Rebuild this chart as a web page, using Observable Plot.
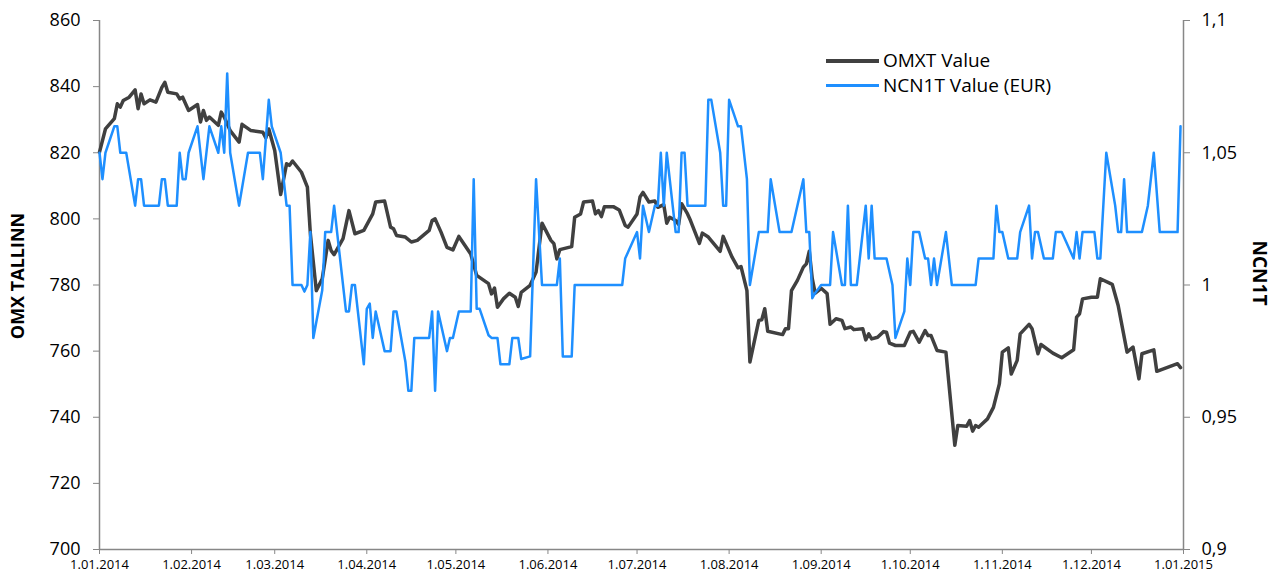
<!DOCTYPE html>
<html>
<head>
<meta charset="utf-8">
<script src="https://cdn.jsdelivr.net/npm/d3@7"></script>
<script src="https://cdn.jsdelivr.net/npm/@observablehq/plot@0.6"></script>
<style>
  html, body { margin: 0; padding: 0; background: #ffffff; }
  #wrap { position: relative; width: 1271px; height: 574px; font-family: "Open Sans", sans-serif; color: #000; }
  #wrap svg { position: absolute; left: 0; top: 0; }
  .ytitle { position: absolute; font-weight: bold; white-space: nowrap; transform-origin: center center; }
  .legend { position: absolute; left: 826px; top: 48px; font-size: 19px; line-height: 25px; }
  .legend .row { display: flex; align-items: center; height: 25px; }
  .legend .swatch { width: 53px; margin-right: 4px; }
</style>
</head>
<body>
<div id="wrap"></div>
<script>
// ---- data ----
const omxtDates = [
  "2014-01-01","2014-01-03","2014-01-06","2014-01-07","2014-01-08","2014-01-09","2014-01-11","2014-01-13","2014-01-14","2014-01-15",
  "2014-01-16","2014-01-18","2014-01-20","2014-01-22","2014-01-23","2014-01-24","2014-01-27","2014-01-28","2014-01-29","2014-01-31",
  "2014-02-03","2014-02-04","2014-02-05","2014-02-06","2014-02-07","2014-02-10","2014-02-11","2014-02-12","2014-02-14","2014-02-17",
  "2014-02-18","2014-02-21","2014-02-25","2014-02-26","2014-02-27",
  "2014-03-01","2014-03-03","2014-03-05","2014-03-06","2014-03-07","2014-03-10","2014-03-12","2014-03-13","2014-03-15","2014-03-17",
  "2014-03-19","2014-03-20","2014-03-21","2014-03-24","2014-03-26","2014-03-28","2014-03-31",
  "2014-04-03","2014-04-04","2014-04-07","2014-04-09","2014-04-10","2014-04-11","2014-04-14","2014-04-16","2014-04-18","2014-04-22",
  "2014-04-23","2014-04-24","2014-04-26","2014-04-28","2014-04-30",
  "2014-05-02","2014-05-06","2014-05-08","2014-05-12","2014-05-13","2014-05-14","2014-05-15","2014-05-17","2014-05-19","2014-05-21",
  "2014-05-22","2014-05-23","2014-05-26","2014-05-28","2014-05-30",
  "2014-06-02","2014-06-03","2014-06-04","2014-06-05","2014-06-09","2014-06-10","2014-06-12","2014-06-13","2014-06-16","2014-06-17",
  "2014-06-18","2014-06-19","2014-06-20","2014-06-23","2014-06-25","2014-06-27","2014-06-28",
  "2014-07-01","2014-07-02","2014-07-03","2014-07-05","2014-07-07","2014-07-08","2014-07-10","2014-07-11","2014-07-12","2014-07-14",
  "2014-07-15","2014-07-16","2014-07-18","2014-07-19","2014-07-22","2014-07-23","2014-07-25","2014-07-29","2014-07-30",
  "2014-08-02","2014-08-04","2014-08-05","2014-08-07","2014-08-08","2014-08-11","2014-08-12","2014-08-13","2014-08-14","2014-08-19",
  "2014-08-20","2014-08-21","2014-08-22","2014-08-24","2014-08-26","2014-08-27","2014-08-28","2014-08-29","2014-08-30",
  "2014-09-01","2014-09-03","2014-09-04","2014-09-06","2014-09-08","2014-09-09","2014-09-11","2014-09-12","2014-09-15","2014-09-16",
  "2014-09-17","2014-09-18","2014-09-20","2014-09-22","2014-09-23","2014-09-24","2014-09-26","2014-09-29",
  "2014-10-01","2014-10-02","2014-10-04","2014-10-06","2014-10-07","2014-10-08","2014-10-10","2014-10-13","2014-10-16","2014-10-17",
  "2014-10-20","2014-10-21","2014-10-22","2014-10-23","2014-10-24","2014-10-27","2014-10-29","2014-10-31",
  "2014-11-01","2014-11-03","2014-11-04","2014-11-06","2014-11-07","2014-11-10","2014-11-11","2014-11-13","2014-11-14","2014-11-18",
  "2014-11-21","2014-11-25","2014-11-26","2014-11-27","2014-11-28",
  "2014-12-01","2014-12-03","2014-12-04","2014-12-08","2014-12-10","2014-12-13","2014-12-15","2014-12-17","2014-12-18","2014-12-22",
  "2014-12-23","2014-12-30","2014-12-31"
];
const omxtValues = [
  820.2,827.2,830.3,834.8,833.8,835.8,836.8,839.0,833.3,837.8,
  834.8,836.0,835.3,839.8,841.3,838.3,837.8,836.3,836.8,832.8,
  834.6,829.3,832.8,829.8,830.8,828.3,832.3,830.8,826.7,823.2,
  828.6,826.7,826.2,824.5,827.2,
  820.7,807.4,816.7,816.2,817.5,814.1,809.6,795.5,778.3,781.9,
  793.5,790.4,789.2,794.0,802.5,795.5,796.5,
  801.5,805.1,805.4,797.5,797.0,795.0,794.5,793.0,793.5,796.5,
  799.5,800.0,796.0,791.4,790.6,
  794.7,789.4,782.9,780.4,777.3,779.1,773.3,775.8,777.5,776.3,
  773.5,777.8,779.9,783.9,798.7,
  793.5,792.5,787.9,790.7,791.6,800.5,801.5,805.1,805.4,801.5,
  802.5,800.7,803.7,803.7,802.7,798.0,797.5,
  801.5,806.6,808.0,805.1,805.4,803.5,804.3,798.7,800.5,799.5,
  798.3,804.6,801.5,799.5,792.6,795.7,794.5,790.2,794.7,
  788.4,785.2,785.6,778.3,756.7,769.3,769.5,772.8,766.0,765.0,
  766.8,766.8,778.3,781.4,785.4,786.4,790.2,781.9,777.5,
  779.0,777.4,768.1,769.8,769.3,766.8,767.3,766.5,766.8,763.4,
  765.2,763.7,764.2,765.9,765.7,762.4,761.7,761.7,
  765.7,766.0,762.7,766.2,764.7,764.7,760.2,759.7,731.5,737.5,
  737.3,739.0,735.8,737.5,737.0,739.5,743.0,750.1,
  759.7,761.0,753.1,757.2,765.2,768.1,766.8,759.2,762.0,759.4,
  758.0,760.4,770.3,771.3,775.8,
  776.3,776.3,781.9,780.2,773.8,759.7,761.2,751.6,759.2,760.4,
  753.9,756.2,755.0
];
const ncnDates = [
  "2014-01-01","2014-01-02","2014-01-03","2014-01-06","2014-01-07","2014-01-08","2014-01-10","2014-01-13","2014-01-14","2014-01-15",
  "2014-01-16","2014-01-21","2014-01-22","2014-01-23","2014-01-24","2014-01-27","2014-01-28","2014-01-29","2014-01-30","2014-01-31",
  "2014-02-03","2014-02-05","2014-02-07","2014-02-10","2014-02-11","2014-02-12","2014-02-13","2014-02-14","2014-02-17","2014-02-20",
  "2014-02-24","2014-02-25","2014-02-27","2014-02-28",
  "2014-03-03","2014-03-05","2014-03-06","2014-03-07","2014-03-10","2014-03-11","2014-03-12","2014-03-13","2014-03-14","2014-03-17",
  "2014-03-18","2014-03-20","2014-03-21","2014-03-25","2014-03-26","2014-03-27","2014-03-28","2014-03-31",
  "2014-04-01","2014-04-02","2014-04-03","2014-04-04","2014-04-07","2014-04-09","2014-04-10","2014-04-11","2014-04-14","2014-04-15",
  "2014-04-16","2014-04-17","2014-04-22","2014-04-23","2014-04-24","2014-04-25","2014-04-28","2014-04-29","2014-04-30",
  "2014-05-02","2014-05-06","2014-05-07","2014-05-08","2014-05-09","2014-05-12","2014-05-13","2014-05-15","2014-05-16","2014-05-19",
  "2014-05-20","2014-05-22","2014-05-23","2014-05-26","2014-05-28","2014-05-30",
  "2014-06-04","2014-06-05","2014-06-06","2014-06-09","2014-06-10","2014-06-26","2014-06-27",
  "2014-07-01","2014-07-02","2014-07-03","2014-07-05","2014-07-07","2014-07-08","2014-07-09","2014-07-10","2014-07-11","2014-07-14",
  "2014-07-15","2014-07-16","2014-07-17","2014-07-18","2014-07-24","2014-07-25","2014-07-26","2014-07-29","2014-07-30","2014-07-31",
  "2014-08-01","2014-08-04","2014-08-05","2014-08-07","2014-08-08","2014-08-11","2014-08-14","2014-08-15","2014-08-18","2014-08-22",
  "2014-08-26","2014-08-27","2014-08-28","2014-08-29","2014-08-30",
  "2014-09-01","2014-09-04","2014-09-05","2014-09-08","2014-09-09","2014-09-10","2014-09-11","2014-09-13","2014-09-16","2014-09-17",
  "2014-09-18","2014-09-19","2014-09-23","2014-09-25","2014-09-26","2014-09-29","2014-09-30",
  "2014-10-01","2014-10-02","2014-10-04","2014-10-06","2014-10-07","2014-10-08","2014-10-09","2014-10-10","2014-10-13","2014-10-15",
  "2014-10-23","2014-10-24","2014-10-29","2014-10-30","2014-10-31",
  "2014-11-01","2014-11-03","2014-11-06","2014-11-07","2014-11-10","2014-11-11","2014-11-12","2014-11-13","2014-11-15","2014-11-18",
  "2014-11-19","2014-11-21","2014-11-25","2014-11-26","2014-11-27","2014-11-28",
  "2014-12-02","2014-12-03","2014-12-04","2014-12-06","2014-12-09","2014-12-10","2014-12-11","2014-12-12","2014-12-13","2014-12-18",
  "2014-12-20","2014-12-22","2014-12-24","2014-12-30","2014-12-31"
];
const ncnValues = [
  1.05,1.04,1.05,1.06,1.06,1.05,1.05,1.03,1.04,1.04,
  1.03,1.03,1.04,1.04,1.03,1.03,1.05,1.04,1.04,1.05,
  1.06,1.04,1.06,1.05,1.06,1.05,1.08,1.05,1.03,1.05,
  1.05,1.04,1.07,1.06,
  1.05,1.03,1.03,1.00,1.00,0.9975,1.00,1.02,0.98,0.998,
  1.02,1.02,1.03,0.99,0.99,1.00,1.00,0.97,
  0.991,0.993,0.98,0.99,0.975,0.975,0.99,0.99,0.971,0.96,
  0.96,0.98,0.98,0.99,0.96,0.99,0.975,0.98,0.98,
  0.99,0.99,1.04,0.991,0.991,0.981,0.98,0.98,0.97,0.97,
  0.98,0.98,0.972,0.973,1.04,1.00,
  1.00,1.01,0.973,0.973,1.00,1.00,1.01,
  1.02,1.01,1.03,1.02,1.03,1.03,1.05,1.03,1.05,1.02,
  1.02,1.05,1.05,1.03,1.03,1.07,1.07,1.05,1.03,1.03,
  1.07,1.06,1.06,1.04,1.00,1.02,1.02,1.04,1.02,1.02,
  1.04,1.02,1.02,0.995,0.997,
  1.00,1.00,1.02,1.00,1.00,1.03,1.00,1.00,1.03,1.01,
  1.03,1.01,1.01,1.00,0.98,0.99,1.01,
  1.00,1.02,1.02,1.01,1.01,1.00,1.01,1.00,1.02,1.00,
  1.00,1.01,1.01,1.03,1.02,
  1.02,1.01,1.01,1.02,1.03,1.01,1.02,1.02,1.01,1.01,
  1.02,1.02,1.01,1.02,1.01,1.02,
  1.02,1.01,1.01,1.05,1.03,1.02,1.02,1.04,1.02,1.02,
  1.03,1.05,1.02,1.02,1.06
];
const monthTicks = ["2014-01-01","2014-02-01","2014-03-01","2014-04-01","2014-05-01","2014-06-01","2014-07-01",
  "2014-08-01","2014-09-01","2014-10-01","2014-11-01","2014-12-01","2015-01-01"];
const leftTicks = [700, 720, 740, 760, 780, 800, 820, 840, 860];
const rightTicks = [0.9, 0.95, 1, 1.05, 1.1];
const rightTickLabels = ["0,9", "0,95", "1", "1,05", "1,1"];
const seriesNames = ["OMXT Value", "NCN1T Value (EUR)"];
const axisTitles = ["OMX TALLINN", "NCN1T"];

// ---- build ----
const parse = d3.utcParse("%Y-%m-%d");
const omxt = omxtDates.map((d, i) => ({date: parse(d), value: omxtValues[i]}));
const ncn = ncnDates.map((d, i) => ({date: parse(d), value: ncnValues[i]}));
const tickDates = monthTicks.map(parse);

const leftDomain = [700, 860];
const rightDomain = [0.9, 1.1];
const toLeft = d3.scaleLinear().domain(rightDomain).range(leftDomain);
const rightLabelMap = new Map(rightTicks.map((v, i) => [toLeft(v), rightTickLabels[i]]));

const darkColor = "#404040";
const blueColor = "#1e8fff";
const axisColor = "#878787";

const chart = Plot.plot({
  width: 1271,
  height: 574,
  marginLeft: 99,
  marginRight: 88,
  marginTop: 20,
  marginBottom: 25,
  style: {fontFamily: "'Open Sans', sans-serif", background: "#ffffff", color: "#000", overflow: "visible"},
  x: {type: "utc", domain: [tickDates[0], tickDates[tickDates.length - 1]], label: null},
  y: {domain: leftDomain, label: null},
  marks: [
    Plot.ruleY([leftDomain[0]], {stroke: axisColor, strokeWidth: 1.5}),
    Plot.ruleX([tickDates[0]], {stroke: axisColor, strokeWidth: 1.5}),
    Plot.ruleX([tickDates[tickDates.length - 1]], {stroke: axisColor, strokeWidth: 1.5}),
    Plot.axisY(leftTicks, {anchor: "left", tickSize: 6, tickPadding: 13, fontSize: 18, stroke: axisColor, fill: "#000", label: null}),
    Plot.axisY(rightTicks.map(toLeft), {anchor: "right", tickSize: 6, tickPadding: 12, fontSize: 18, stroke: axisColor, fill: "#000",
      tickFormat: v => rightLabelMap.get(v), label: null}),
    Plot.axisX(tickDates, {anchor: "bottom", tickSize: 5, tickPadding: 5, fontSize: 13, stroke: axisColor, fill: "#000", label: null,
      tickFormat: d => `${d.getUTCDate()}.${String(d.getUTCMonth() + 1).padStart(2, "0")}.${d.getUTCFullYear()}`}),
    Plot.line(omxt, {x: "date", y: "value", stroke: darkColor, strokeWidth: 3.5}),
    Plot.line(ncn, {x: "date", y: d => toLeft(d.value), stroke: blueColor, strokeWidth: 2.5})
  ]
});

const wrap = document.getElementById("wrap");
wrap.appendChild(chart);

// axis titles
const lt = document.createElement("div");
lt.className = "ytitle";
lt.textContent = axisTitles[0];
lt.style.fontSize = "18px";
wrap.appendChild(lt);
const ltw = lt.offsetWidth, lth = lt.offsetHeight;
lt.style.left = (17 - ltw / 2) + "px";
lt.style.top = (276 - lth / 2) + "px";
lt.style.transform = "rotate(-90deg)";

const rt = document.createElement("div");
rt.className = "ytitle";
rt.textContent = axisTitles[1];
rt.style.fontSize = "19px";
wrap.appendChild(rt);
const rtw = rt.offsetWidth, rth = rt.offsetHeight;
rt.style.left = (1260 - rtw / 2) + "px";
rt.style.top = (273 - rth / 2) + "px";
rt.style.transform = "rotate(90deg)";

// legend
const legend = document.createElement("div");
legend.className = "legend";
[[seriesNames[0], darkColor, 4], [seriesNames[1], blueColor, 3]].forEach(([name, color, w]) => {
  const row = document.createElement("div");
  row.className = "row";
  const sw = document.createElement("div");
  sw.className = "swatch";
  sw.style.height = w + "px";
  sw.style.background = color;
  const tx = document.createElement("span");
  tx.textContent = name;
  row.appendChild(sw);
  row.appendChild(tx);
  legend.appendChild(row);
});
wrap.appendChild(legend);
</script>
</body>
</html>
